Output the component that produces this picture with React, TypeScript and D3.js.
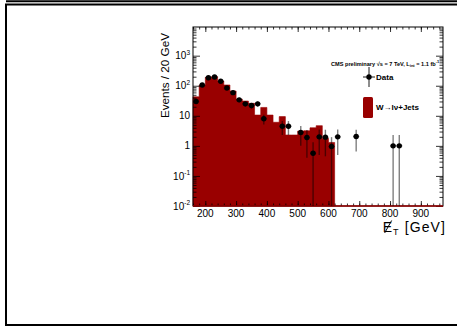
import React, { useEffect, useRef } from 'react';
import * as d3 from 'd3';

// W -> lnu + jets simulation, lower bin edge (GeV) and events per 20 GeV
const mcBinLow = [160, 180, 200, 220, 240, 260, 280, 300, 320, 340, 360, 380, 400, 420, 440, 460, 480, 500, 520, 540, 560, 580, 600];
const mcEvents = [43, 106, 191, 200, 144, 106, 67, 36, 31, 26, 10.6, 19, 10.6, 6.1, 9.4, 2.3, 2.3, 3.1, 3.2, 4.0, 4.7, 1.8, 1.3];

// data points: bin centre, events, error
const dataMet = [170, 190, 210, 230, 250, 270, 290, 310, 330, 350, 370, 390, 450, 470, 510, 530, 550, 570, 590, 610, 630, 690, 810, 830];
const dataEvents = [30, 106, 185, 195, 141, 84, 59, 34, 25, 22, 25, 8, 4.5, 4.5, 2.8, 1.9, 0.57, 2.0, 1.95, 0.95, 2.0, 2.05, 1.0, 1.0];
const dataErr = [5.5, 10.3, 13.6, 14, 11.9, 9.2, 7.7, 5.8, 5, 4.7, 5, 2.9, 2.2, 2.2, 1.8, 1.5, 0.75, 1.5, 1.5, 1.0, 1.5, 1.4, 1.3, 1.3];

const xTicks = [200, 300, 400, 500, 600, 700, 800, 900];
const yTicks = [0.01, 0.1, 1, 10, 100, 1000];
const yTickBase = ['10', '10', '1', '10', '10', '10'];
const yTickExp = ['-2', '-1', '', '', '2', '3'];

const binWidth = 20;
const red = '#990000';
const font = '"Liberation Sans", Arial, Helvetica, sans-serif';

const App = () => {
  const ref = useRef<SVGSVGElement>(null);

  useEffect(() => {
    const svg = d3.select(ref.current);
    svg.selectAll('*').remove();

    const left = 193, right = 443, top = 27, bottom = 206;
    const x = d3.scaleLinear().domain([160, 972]).range([left, right]);
    const y = d3.scaleLog().domain([0.01, 9000]).range([bottom, top]);

    // page frame
    svg.append('line').attr('x1', 6).attr('x2', 457).attr('y1', 1.3).attr('y2', 1.3).attr('stroke', '#000').attr('stroke-width', 2);
    svg.append('line').attr('x1', 5).attr('x2', 457).attr('y1', 4.6).attr('y2', 4.6).attr('stroke', '#000').attr('stroke-width', 2);
    svg.append('line').attr('x1', 6).attr('x2', 6).attr('y1', 4).attr('y2', 326).attr('stroke', '#000').attr('stroke-width', 2);
    svg.append('line').attr('x1', 5).attr('x2', 457).attr('y1', 325).attr('y2', 325).attr('stroke', '#000').attr('stroke-width', 2);

    // histogram
    const steps: [number, number][] = mcBinLow.map((b, i) => [b, mcEvents[i]]);
    steps.push([mcBinLow[mcBinLow.length - 1] + binWidth, mcEvents[mcEvents.length - 1]]);
    const area = d3.area<[number, number]>()
      .x(d => x(d[0]))
      .y0(bottom)
      .y1(d => y(d[1]))
      .curve(d3.curveStepAfter);
    svg.append('path').datum(steps).attr('d', area).attr('fill', red).attr('stroke', red).attr('stroke-width', 0.6);

    // axes (ticks drawn inward, mirrored on top/right)
    const styleAxis = (g: any) => {
      g.select('.domain').remove();
      g.selectAll('line').attr('stroke', '#000').attr('stroke-width', 0.8);
      g.selectAll('text').remove();
    };
    const minorX = d3.range(160, 972, 20);
    const minorY: number[] = [];
    [-2, -1, 0, 1, 2, 3].forEach(e => {
      for (let m = 2; m <= 9; m++) {
        const v = m * Math.pow(10, e);
        if (v < 9000) minorY.push(v);
      }
    });

    svg.append('g').attr('transform', `translate(0,${bottom})`)
      .call(d3.axisBottom(x).tickValues(xTicks).tickSize(-5).tickSizeOuter(0)).call(styleAxis);
    svg.append('g').attr('transform', `translate(0,${bottom})`)
      .call(d3.axisBottom(x).tickValues(minorX).tickSize(-2.5).tickSizeOuter(0)).call(styleAxis);
    svg.append('g').attr('transform', `translate(0,${top})`)
      .call(d3.axisTop(x).tickValues(xTicks).tickSize(-5).tickSizeOuter(0)).call(styleAxis);
    svg.append('g').attr('transform', `translate(0,${top})`)
      .call(d3.axisTop(x).tickValues(minorX).tickSize(-2.5).tickSizeOuter(0)).call(styleAxis);
    svg.append('g').attr('transform', `translate(${left},0)`)
      .call(d3.axisLeft(y).tickValues(yTicks).tickSize(-7).tickSizeOuter(0)).call(styleAxis);
    svg.append('g').attr('transform', `translate(${left},0)`)
      .call(d3.axisLeft(y).tickValues(minorY).tickSize(-3.5).tickSizeOuter(0)).call(styleAxis);
    svg.append('g').attr('transform', `translate(${right},0)`)
      .call(d3.axisRight(y).tickValues(yTicks).tickSize(-7).tickSizeOuter(0)).call(styleAxis);
    svg.append('g').attr('transform', `translate(${right},0)`)
      .call(d3.axisRight(y).tickValues(minorY).tickSize(-3.5).tickSizeOuter(0)).call(styleAxis);

    // frame
    svg.append('rect').attr('x', left).attr('y', top).attr('width', right - left).attr('height', bottom - top)
      .attr('fill', 'none').attr('stroke', '#000').attr('stroke-width', 1);
    svg.append('line').attr('x1', left).attr('x2', right).attr('y1', bottom).attr('y2', bottom)
      .attr('stroke', red).attr('stroke-width', 1.4);

    // data points with error bars
    const pts = dataMet.map((m, i) => ({ m, v: dataEvents[i], e: dataErr[i] }));
    const gd = svg.append('g');
    gd.selectAll('line.ev').data(pts).enter().append('line')
      .attr('x1', d => x(d.m)).attr('x2', d => x(d.m))
      .attr('y1', d => y(d.v + d.e))
      .attr('y2', d => (d.v - d.e > 0.01 ? y(d.v - d.e) : bottom))
      .attr('stroke', '#000').attr('stroke-opacity', 0.5).attr('stroke-width', 1.4);
    gd.selectAll('line.eh').data(pts).enter().append('line')
      .attr('x1', d => x(d.m - binWidth / 2)).attr('x2', d => x(d.m + binWidth / 2))
      .attr('y1', d => y(d.v)).attr('y2', d => y(d.v))
      .attr('stroke', '#000').attr('stroke-opacity', 0.5).attr('stroke-width', 1.2);
    gd.selectAll('circle').data(pts).enter().append('circle')
      .attr('cx', d => x(d.m)).attr('cy', d => y(d.v)).attr('r', 2.7).attr('fill', '#000');

    // tick labels
    const gxl = svg.append('g').attr('font-family', font).attr('font-size', 10).attr('text-anchor', 'middle');
    gxl.selectAll('text').data(xTicks).enter().append('text')
      .attr('x', d => x(d)).attr('y', 216.5).text(d => String(d));

    const gyl = svg.append('g').attr('font-family', font).attr('font-size', 10).attr('text-anchor', 'end');
    yTicks.forEach((t, i) => {
      const txt = gyl.append('text').attr('x', 190).attr('y', y(t) + 3.6);
      txt.append('tspan').text(yTickBase[i]);
      if (yTickExp[i]) txt.append('tspan').attr('font-size', 6.5).attr('dy', -4.5).text(yTickExp[i]);
    });

    // axis titles
    svg.append('text').attr('font-family', font).attr('font-size', 11.7).attr('text-anchor', 'end')
      .attr('transform', 'translate(169,33) rotate(-90)').text('Events / 20 GeV');

    const xt = svg.append('text').attr('font-family', font).attr('font-size', 14)
      .attr('letter-spacing', 1.1).attr('text-anchor', 'end').attr('x', 446).attr('y', 231.5);
    xt.append('tspan').text('E');
    xt.append('tspan').attr('font-size', 9).attr('dy', 3).text('T');
    xt.append('tspan').attr('dy', -3).text(' [GeV]');
    const xtNode = xt.node() as SVGTextElement;
    const e0 = xtNode.getStartPositionOfChar(0).x;
    svg.append('line').attr('x1', e0 + 9).attr('y1', 220.5).attr('x2', e0 + 2).attr('y2', 233)
      .attr('stroke', '#000').attr('stroke-width', 1);

    // header
    const hd = svg.append('text').attr('font-family', font).attr('font-size', 5.6).attr('font-weight', 'bold')
      .attr('x', 331).attr('y', 65.5);
    hd.append('tspan').text('CMS preliminary \u221As = 7 TeV, L');
    hd.append('tspan').attr('font-size', 4).attr('dy', 1.5).text('int');
    hd.append('tspan').attr('dy', -1.5).text(' = 1.1 fb');
    hd.append('tspan').attr('font-size', 4).attr('dy', -2.5).text('-1');

    // legend
    svg.append('line').attr('x1', 363).attr('x2', 375).attr('y1', 77).attr('y2', 77).attr('stroke', '#000').attr('stroke-width', 0.9);
    svg.append('line').attr('x1', 369).attr('x2', 369).attr('y1', 67).attr('y2', 87).attr('stroke', '#000').attr('stroke-width', 0.9);
    svg.append('circle').attr('cx', 369).attr('cy', 77).attr('r', 2.7).attr('fill', '#000');
    svg.append('text').attr('font-family', font).attr('font-size', 8).attr('font-weight', 'bold')
      .attr('x', 376).attr('y', 80).text('Data');
    svg.append('rect').attr('x', 363).attr('y', 97).attr('width', 10).attr('height', 21).attr('rx', 1.5)
      .attr('fill', red);
    svg.append('text').attr('font-family', font).attr('font-size', 8).attr('font-weight', 'bold')
      .attr('x', 376).attr('y', 110).text('W\u2192l\u03BD+Jets');
  }, []);

  return (
    <svg ref={ref} width={457} height={327} style={{ position: 'absolute', left: 0, top: 0, background: '#fff' }} />
  );
};

export default App;
